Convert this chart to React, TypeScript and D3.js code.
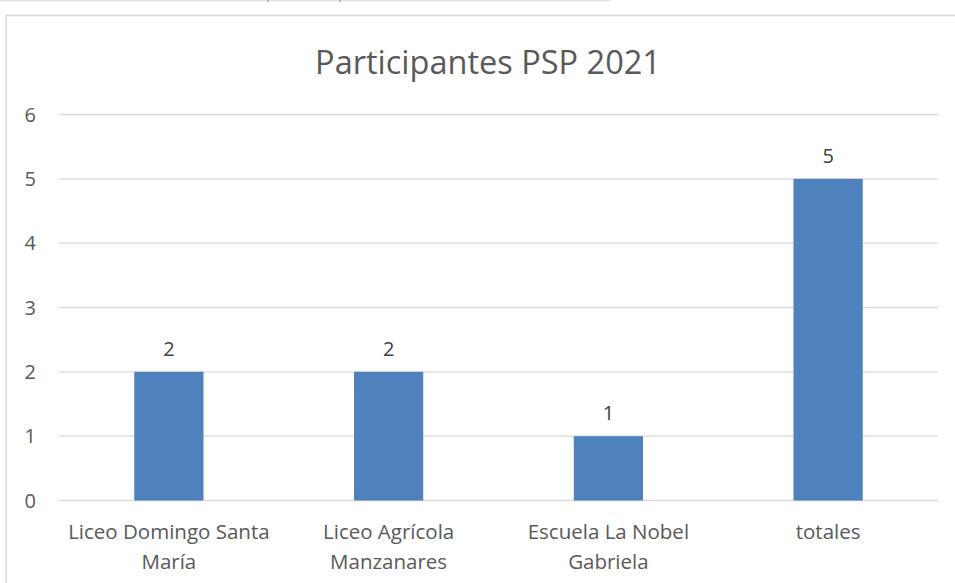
import React from "react";
import * as d3 from "d3";

const categories: string[][] = [
  ["Liceo Domingo Santa", "María"],
  ["Liceo Agrícola", "Manzanares"],
  ["Escuela La Nobel", "Gabriela"],
  ["totales"],
];
const values: number[] = [2, 2, 1, 5];
const yTicks: number[] = [0, 1, 2, 3, 4, 5, 6];
const title = "Participantes PSP 2021";

const W = 955;
const H = 583;
const FONT = "'Open Sans', sans-serif";
const TEXT = "#595959";

export default function App() {
  const left = 59;
  const right = 938;
  const top = 114.5;
  const bottom = 500.5;
  const keys = categories.map((c) => c.join(" "));
  const x = d3.scaleBand<string>().domain(keys).range([left, right]).paddingInner(0.685).paddingOuter(0.3425);
  const y = d3.scaleLinear().domain([0, 6]).range([bottom, top]);

  return (
    <svg width={W} height={H} style={{ position: "absolute", left: 0, top: 0, background: "#fff" }}>
      <rect x={0} y={0} width={W} height={H} fill="#fff" />
      <line x1={0} x2={611} y1={0.5} y2={0.5} stroke="#e6e2da" strokeWidth={1.5} />
      <line x1={268} x2={268} y1={0} y2={2} stroke="#888" strokeWidth={1} />
      <line x1={340} x2={340} y1={0} y2={2} stroke="#888" strokeWidth={1} />
      <path d={`M6,${H} V15.5 H${W}`} fill="none" stroke="#d9d9d9" strokeWidth={1.5} />
      <text x={488} y={74} textAnchor="middle" fontFamily={FONT} fontSize={32.5} fill={TEXT}>
        {title}
      </text>
      {yTicks.map((t) => (
        <g key={t}>
          <line x1={left} x2={right} y1={y(t)} y2={y(t)} stroke="#d9d9d9" strokeWidth={1.3} />
          <text x={36} y={y(t) + 7} textAnchor="end" fontFamily={FONT} fontSize={20} fill={TEXT}>
            {t}
          </text>
        </g>
      ))}
      {values.map((v, i) => {
        const k = keys[i];
        const bx = x(k)!;
        return (
          <g key={k}>
            <rect x={bx} y={y(v)} width={x.bandwidth()} height={y(0) - y(v)} fill="#4f81bd" />
            <text x={bx + x.bandwidth() / 2} y={y(v) - 16} textAnchor="middle" fontFamily={FONT} fontSize={20} fill="#404040">
              {v}
            </text>
          </g>
        );
      })}
      {categories.map((lines, i) => {
        const cx = x(keys[i])! + x.bandwidth() / 2;
        return (
          <text key={i} textAnchor="middle" fontFamily={FONT} fontSize={20.5} fill={TEXT}>
            {lines.map((l, j) => (
              <tspan key={j} x={cx} y={539 + j * 30}>
                {l}
              </tspan>
            ))}
          </text>
        );
      })}
    </svg>
  );
}
